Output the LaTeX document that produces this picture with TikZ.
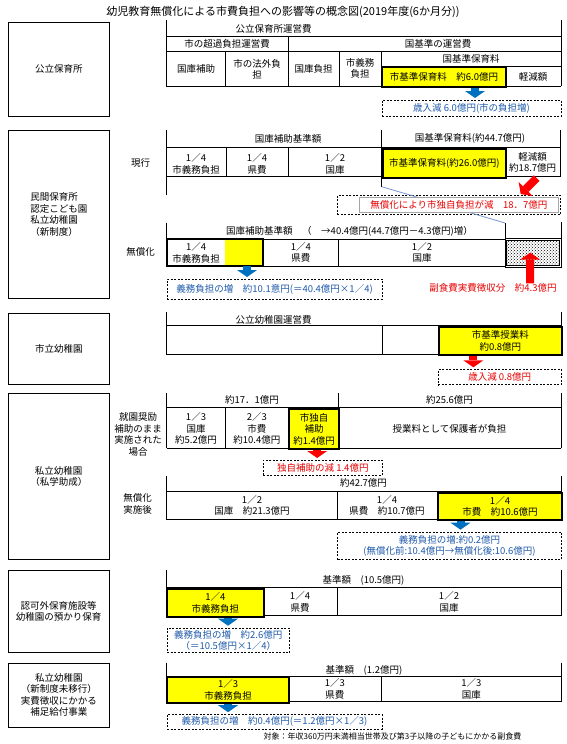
\documentclass[tikz,border=0pt]{standalone}
\usepackage{fontspec}
\setmainfont{Noto Sans CJK JP}
\usetikzlibrary{arrows.meta,patterns}
\definecolor{hlyellow}{RGB}{255,255,0}
\definecolor{arrowblue}{RGB}{0,112,192}
\definecolor{noteblue}{RGB}{31,90,170}
\definecolor{arrowred}{RGB}{255,0,0}
\definecolor{alertred}{RGB}{230,0,0}
\definecolor{linkblue}{RGB}{120,150,205}
\definecolor{boxgray}{RGB}{165,165,165}
\begin{document}
\begin{tikzpicture}[x=1pt,y=-1pt,
    every node/.style={font=\fontsize{9.5}{11.5}\selectfont, inner sep=0pt, align=center},
    tline/.style={line width=0.8pt},
    cellsize/.style 2 args={minimum width=#1pt, minimum height=#2pt},
    sidebox/.style={draw, line width=0.8pt, anchor=north west},
    hl/.style={draw, line width=2pt, fill=hlyellow, anchor=north west},
    note/.style={draw, dash pattern=on 2pt off 1.5pt, line width=0.7pt, anchor=north west},
    bluearr/.style={draw=arrowblue, line width=8pt, shorten >=2pt, -{Triangle[width=20pt,length=7pt,line width=0pt]}},
    redarr/.style={draw=arrowred, line width=8pt, shorten >=2pt, -{Triangle[width=20pt,length=7pt,line width=0pt]}}]
    \useasboundingbox (0,0) rectangle (567,744);

    % Title
    \node[font=\fontsize{11}{13}\selectfont] (ttl) at (283,12) {幼児教育無償化による市費負担への影響等の概念図(2019年度(6か月分))};

    % Table lines (vertical: x/top/bottom, horizontal: y/left/right)
    \foreach \x/\ya/\yb in {166/20/86, 561/20/86, 288.3/36.7/86, 225.7/51/86, 339/51/86, 381.7/51/86, 505/66/86,
                            166/130/195, 381.7/130/186.7, 560/130/176.7, 226/147.7/176.7, 288.3/147.7/176.7,
                            166.7/222.7/266, 505/223/238, 561/222/238, 338.8/239/266,
                            166/311.7/354, 561/311.7/354, 382/325.7/354,
                            166.7/393/448.3, 561/393/448.3, 338/393/448.3, 225.3/407.7/448.3,
                            166/476/519.3, 561/476/519.3, 337.4/491.7/519.3,
                            166/570/615.7, 561/570/615.7, 337.4/587.7/615.7,
                            166/662.7/701.7, 561/662.7/701.7, 381.6/676/701.7} {
        \draw[tline] (\x,\ya) -- (\x,\yb);
    }
    \foreach \y/\xa/\xb in {36.7/166/561, 51/166/561, 86/166/561, 66/381.7/561,
                            147.7/166/560, 176.7/166/560,
                            239/166.7/505, 266/166.7/505,
                            325.7/166/561, 354/166/561,
                            407.7/166.7/561, 448.3/166.7/561,
                            491.7/166/561, 519.3/166/561,
                            587.7/166/561, 615.7/166/561,
                            676/166/561, 701.7/166/561} {
        \draw[tline] (\xa,\y) -- (\xb,\y);
    }

    % Public nursery
    \node[sidebox, cellsize={100.7}{94}] (box1) at (8,22) {公立保育所};
    \node (unei1) at (273.5,28.5) {公立保育所運営費};
    \node (chouka) at (227,44) {市の超過負担運営費};
    \node (kijununei) at (438,44) {国基準の運営費};
    \node (kokko1) at (196,68.5) {国庫補助};
    \node (hougai) at (257,69.5) {市の法外負\\担};
    \node (kokkofutan) at (313.5,68.5) {国庫負担};
    \node (gimu1) at (360,68.5) {市義務\\負担};
    \node (hoiku1) at (471,58.5) {国基準保育料};
    \node[hl, cellsize={124.6}{20}] (ylw1) at (380.7,66) {市基準保育料　約6.0億円};
    \node (keigen1) at (533,76.5) {軽減額};
    \node[note, cellsize={179}{16}, text=noteblue] (note1) at (381.7,100) {歳入減 6.0億円(市の負担増)};
    \draw[bluearr] ([xshift=31pt]ylw1.south) -- ([xshift=31pt]ylw1.south |- note1.north);

    % Private nursery, current
    \node[sidebox, cellsize={100.7}{168.3}, align=left] (box2) at (8,130) {民間保育所\\認定こども園\\私立幼稚園\\（新制度）};
    \node (genkou) at (140.6,163) {現行};
    \node (kijungaku1) at (288,138.5) {国庫補助基準額};
    \node (hoiku2) at (470,138.5) {国基準保育料(約44.7億円)};
    \node (gimu2) at (196,164) {1／4\\市義務負担};
    \node (kenpi2) at (257,164) {1／4\\県費};
    \node (kokko2) at (335,164) {1／2\\国庫};
    \node[hl, cellsize={123.3}{29}] (ylw2a) at (381.7,147.7) {市基準保育料(約26.0億円)};
    \node[cellsize={55}{29}, anchor=north west] (keigen2) at (505,147.7) {軽減額\\約18.7億円};
    \node[note, cellsize={223}{19.3}] (note2) at (337,195) {};
    \coordinate (lnA) at (381.7,186.7);
    \coordinate (lnB) at (505,223);
    \draw[linkblue, line width=0.8pt] (lnA) -- (lnB);
    \node[draw=boxgray, fill=white, line width=0.8pt, cellsize={199}{15}, anchor=north west, text=alertred] (gen) at (359,197) {無償化により市独自負担が減　18．7億円};
    \draw[redarr, shorten >=0pt] ([xshift=4pt,yshift=-1pt]keigen2.south) -- ([xshift=-40pt,yshift=1pt]note2.north east);

    % Private nursery, free of charge
    \node (mushou) at (140.6,251.7) {無償化};
    \node (kijungaku2) at (349.5,231.5) {国庫補助基準額　（　→40.4億円(44.7億円－4.3億円)増）};
    \node[cellsize={58.3}{27}, anchor=north west] (gimu3) at (166.7,239) {1／4\\市義務負担};
    \node[fill=hlyellow, cellsize={37.7}{27}, anchor=north west] (ylw2) at (225,239) {};
    \draw[line width=2pt] (gimu3.north west) rectangle (ylw2.south east);
    \node (kenpi3) at (300.8,252.5) {1／4\\県費};
    \node (kokko3) at (422,252.5) {1／2\\国庫};
    \node[draw, line width=0.6pt, cellsize={56}{28.7}, anchor=north west] (hatch) at (505,238) {};
    \draw[pattern=crosshatch dots, line width=0.6pt] ([xshift=1.7pt,yshift=-2pt]hatch.north west) rectangle ([xshift=-2pt,yshift=1.7pt]hatch.south east);
    \node[note, cellsize={215}{20}, text=noteblue] (note3) at (166.7,279) {義務負担の増　約10.1意円(＝40.4億円×1／4)};
    \draw[bluearr] ([xshift=3pt]ylw2.south) -- ([xshift=3pt]ylw2.south |- note3.north);
    \node[text=alertred] (fukushoku) at (493,288) {副食費実費徴収分　約4.3億円};
    \draw[redarr, shorten >=0pt] ([xshift=37pt]fukushoku.north) -- ([xshift=-3pt]hatch.center);

    % Municipal kindergarten
    \node[sidebox, cellsize={100.7}{71.6}] (box3) at (8,312.7) {市立幼稚園};
    \node (unei3) at (273.5,320) {公立幼稚園運営費};
    \node[hl, cellsize={123.3}{28.3}] (ylw3) at (437.7,325.7) {市基準授業料\\約0.8億円};
    \node[note, cellsize={123.3}{15}, text=alertred] (note4) at (437.7,369.3) {歳入減 0.8億円};
    \draw[redarr] ([xshift=-27pt]ylw3.south) -- ([xshift=-27pt]ylw3.south |- note4.north);

    % Private kindergarten (subsidy)
    \node[sidebox, cellsize={100.7}{166}] (box4) at (8,393.3) {私立幼稚園\\（私学助成）};
    \node (shuen) at (138,434.5) {就園奨励\\補助のまま\\実施された\\場合};
    \node (gaku1) at (252,400) {約17．1億円};
    \node (gaku2) at (449.5,400) {約25.6億円};
    \node (kokko4) at (196,428.5) {1／3\\国庫\\約5.2億円};
    \node (shihi4) at (256.8,428.5) {2／3\\市費\\約10.4億円};
    \node[hl, cellsize={49.7}{40.6}] (ylw4) at (288.3,407.7) {市独自\\補助\\約1.4億円};
    \node (hogosha) at (449.5,428.5) {授業料として保護者が負担};
    \node[note, cellsize={119}{15}, text=alertred] (note5) at (263,460) {独自補助の減 1.4億円};
    \draw[redarr] ([xshift=3pt]ylw4.south) -- ([xshift=3pt]ylw4.south |- note5.north);
    \node (jisshigo) at (137.7,504) {無償化\\実施後};
    \node (gaku3) at (363.5,483.3) {約42.7億円};
    \node (kokko5) at (252,505.5) {1／2\\国庫　約21.3億円};
    \node (kenpi5) at (387,505.5) {1／4\\県費　約10.7億円};
    \node[hl, cellsize={124}{27.6}] (ylw5) at (437,491.7) {1／4\\市費　約10.6億円};
    \node[note, cellsize={223.6}{27.6}, text=noteblue] (note6) at (337.4,531.7) {義務負担の増:約0.2億円\\(無償化前:10.4億円→無償化後:10.6億円)};
    \draw[bluearr] ([xshift=-39.5pt]ylw5.south) -- ([xshift=-39.5pt]ylw5.south |- note6.north);

    % Unlicensed facilities
    \node[sidebox, cellsize={100.7}{82.3}] (box5) at (8,570) {認可外保育施設等\\幼稚園の預かり保育};
    \node (kijun5) at (363.5,580) {基準額　(10.5億円)};
    \node[hl, cellsize={96.8}{28}] (ylw6) at (166,587.7) {1／4\\市義務負担};
    \node (kenpi6) at (300,602) {1／4\\県費};
    \node (kokko6) at (449,602) {1／2\\国庫};
    \node[note, cellsize={122.5}{24.6}, text=noteblue] (note7) at (166.7,627.7) {義務負担の増　約2.6億円\\（＝10.5億円×1／4）};
    \draw[bluearr] ([xshift=12.6pt]ylw6.south) -- ([xshift=12.6pt]ylw6.south |- note7.north);

    % Supplementary benefit
    \node[sidebox, cellsize={100.7}{64}] (box6) at (8,662.7) {私立幼稚園\\（新制度未移行）\\実費徴収にかかる\\補足給付事業};
    \node (kijun7) at (364,670.7) {基準額　(1.2億円)};
    \node[hl, cellsize={122.1}{25.7}] (ylw7) at (166,676) {1／3\\市義務負担};
    \node (kenpi7) at (334.8,689) {1／3\\県費};
    \node (kokko7) at (471.3,689) {1／3\\国庫};
    \node[note, cellsize={214.9}{14.5}, text=noteblue] (note8) at (166.7,714.2) {義務負担の増　約0.4億円(＝1.2億円×1／3)};
    \draw[bluearr] (ylw7.south) -- (ylw7.south |- note8.north);
    \node[font=\fontsize{8}{9}\selectfont] (taisho) at (392.5,736) {対象：年収360万円未満相当世帯及び第3子以降の子どもにかかる副食費};
\end{tikzpicture}
\end{document}
